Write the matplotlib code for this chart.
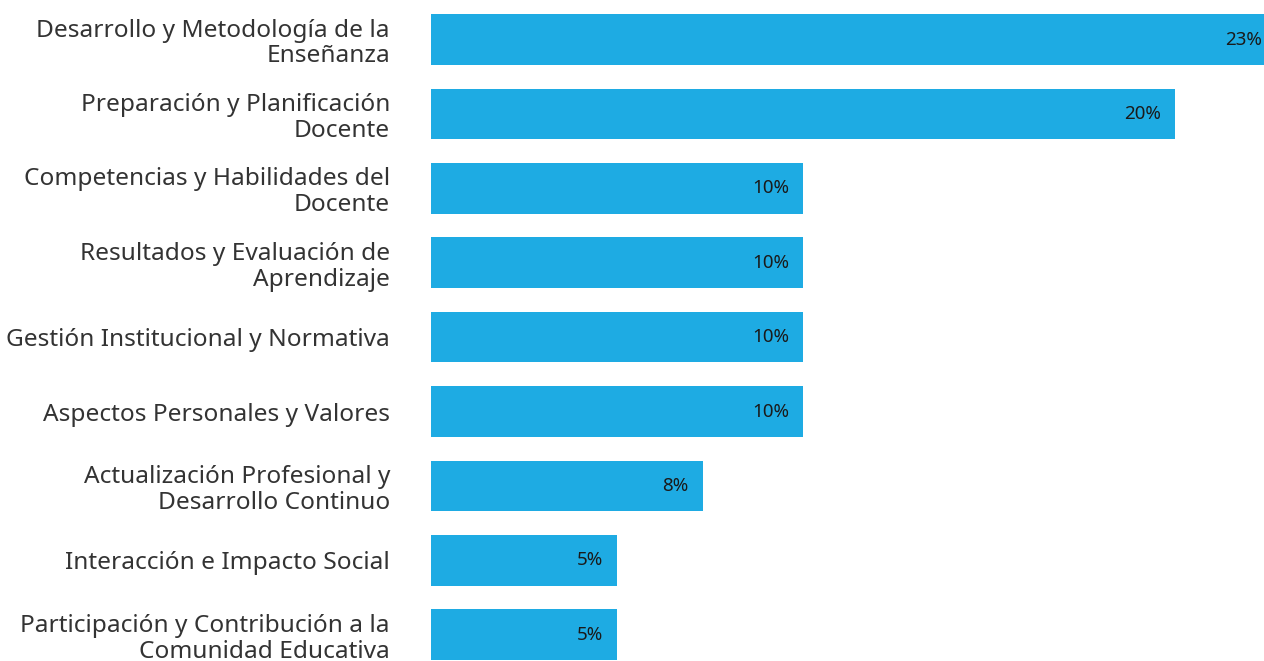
import numpy as np
import matplotlib
matplotlib.use("Agg")
import matplotlib.pyplot as plt

plt.rcParams['font.family'] = ['Noto Sans', 'DejaVu Sans']

categorias = [
    "Desarrollo y Metodología de la\nEnseñanza",
    "Preparación y Planificación\nDocente",
    "Competencias y Habilidades del\nDocente",
    "Resultados y Evaluación de\nAprendizaje",
    "Gestión Institucional y Normativa",
    "Aspectos Personales y Valores",
    "Actualización Profesional y\nDesarrollo Continuo",
    "Interacción e Impacto Social",
    "Participación y Contribución a la\nComunidad Educativa",
]
valores = [22.7, 20, 10, 10, 10, 10, 7.3, 5, 5]
etiquetas = ["23%", "20%", "10%", "10%", "10%", "10%", "8%", "5%", "5%"]

color_barra = "#1EABE3"

fig = plt.figure(figsize=(12.64, 6.61), dpi=100)
ax = fig.add_axes([431 / 1264, 0, 1 - 431 / 1264, 1])

y = np.arange(len(categorias))
ax.barh(y, valores, height=0.68, color=color_barra)

ax.set_ylim(8.353, -0.531)
ax.set_xlim(0, 22.39)

# etiquetas de valor dentro de la barra
for yi, v, t in zip(y, valores, etiquetas):
    ax.annotate(t, xy=(v, yi), xytext=(-10, 0), textcoords="offset points",
                ha="right", va="center", fontsize=13.5, color="#1a1a1a",
                annotation_clip=False)

ax.set_yticks(y)
ax.set_yticklabels(categorias, fontsize=17.6, color="#333333",
                   linespacing=1.1)
ax.tick_params(axis="y", length=0, pad=41 * 72 / 100)
ax.set_xticks([])
for s in ax.spines.values():
    s.set_visible(False)

fig.savefig("out.png", dpi=100)
